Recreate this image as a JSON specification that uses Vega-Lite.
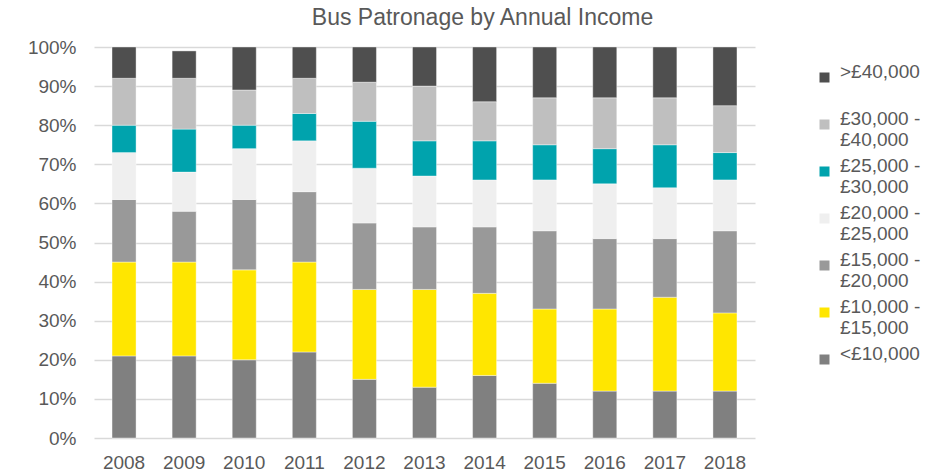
{
  "$schema": "https://vega.github.io/schema/vega-lite/v6.json",
  "autosize": "none",
  "width": 661,
  "height": 391,
  "padding": {"left": 94, "top": 47, "right": 184, "bottom": 35},
  "background": "#ffffff",
  "title": {
    "text": "Bus Patronage by Annual Income",
    "font": "Liberation Sans",
    "fontSize": 23,
    "fontWeight": "normal",
    "color": "#595959",
    "anchor": "middle",
    "dx": 58,
    "offset": 8
  },
  "data": {
    "values": [
      {"year": "2008", "band": "<£10,000", "k": 1, "share": 0.21},
      {"year": "2008", "band": "£10,000 - £15,000", "k": 2, "share": 0.24},
      {"year": "2008", "band": "£15,000 - £20,000", "k": 3, "share": 0.16},
      {"year": "2008", "band": "£20,000 - £25,000", "k": 4, "share": 0.12},
      {"year": "2008", "band": "£25,000 - £30,000", "k": 5, "share": 0.07},
      {"year": "2008", "band": "£30,000 - £40,000", "k": 6, "share": 0.12},
      {"year": "2008", "band": ">£40,000", "k": 7, "share": 0.08},
      {"year": "2009", "band": "<£10,000", "k": 1, "share": 0.21},
      {"year": "2009", "band": "£10,000 - £15,000", "k": 2, "share": 0.24},
      {"year": "2009", "band": "£15,000 - £20,000", "k": 3, "share": 0.13},
      {"year": "2009", "band": "£20,000 - £25,000", "k": 4, "share": 0.10},
      {"year": "2009", "band": "£25,000 - £30,000", "k": 5, "share": 0.11},
      {"year": "2009", "band": "£30,000 - £40,000", "k": 6, "share": 0.13},
      {"year": "2009", "band": ">£40,000", "k": 7, "share": 0.07},
      {"year": "2010", "band": "<£10,000", "k": 1, "share": 0.20},
      {"year": "2010", "band": "£10,000 - £15,000", "k": 2, "share": 0.23},
      {"year": "2010", "band": "£15,000 - £20,000", "k": 3, "share": 0.18},
      {"year": "2010", "band": "£20,000 - £25,000", "k": 4, "share": 0.13},
      {"year": "2010", "band": "£25,000 - £30,000", "k": 5, "share": 0.06},
      {"year": "2010", "band": "£30,000 - £40,000", "k": 6, "share": 0.09},
      {"year": "2010", "band": ">£40,000", "k": 7, "share": 0.11},
      {"year": "2011", "band": "<£10,000", "k": 1, "share": 0.22},
      {"year": "2011", "band": "£10,000 - £15,000", "k": 2, "share": 0.23},
      {"year": "2011", "band": "£15,000 - £20,000", "k": 3, "share": 0.18},
      {"year": "2011", "band": "£20,000 - £25,000", "k": 4, "share": 0.13},
      {"year": "2011", "band": "£25,000 - £30,000", "k": 5, "share": 0.07},
      {"year": "2011", "band": "£30,000 - £40,000", "k": 6, "share": 0.09},
      {"year": "2011", "band": ">£40,000", "k": 7, "share": 0.08},
      {"year": "2012", "band": "<£10,000", "k": 1, "share": 0.15},
      {"year": "2012", "band": "£10,000 - £15,000", "k": 2, "share": 0.23},
      {"year": "2012", "band": "£15,000 - £20,000", "k": 3, "share": 0.17},
      {"year": "2012", "band": "£20,000 - £25,000", "k": 4, "share": 0.14},
      {"year": "2012", "band": "£25,000 - £30,000", "k": 5, "share": 0.12},
      {"year": "2012", "band": "£30,000 - £40,000", "k": 6, "share": 0.10},
      {"year": "2012", "band": ">£40,000", "k": 7, "share": 0.09},
      {"year": "2013", "band": "<£10,000", "k": 1, "share": 0.13},
      {"year": "2013", "band": "£10,000 - £15,000", "k": 2, "share": 0.25},
      {"year": "2013", "band": "£15,000 - £20,000", "k": 3, "share": 0.16},
      {"year": "2013", "band": "£20,000 - £25,000", "k": 4, "share": 0.13},
      {"year": "2013", "band": "£25,000 - £30,000", "k": 5, "share": 0.09},
      {"year": "2013", "band": "£30,000 - £40,000", "k": 6, "share": 0.14},
      {"year": "2013", "band": ">£40,000", "k": 7, "share": 0.10},
      {"year": "2014", "band": "<£10,000", "k": 1, "share": 0.16},
      {"year": "2014", "band": "£10,000 - £15,000", "k": 2, "share": 0.21},
      {"year": "2014", "band": "£15,000 - £20,000", "k": 3, "share": 0.17},
      {"year": "2014", "band": "£20,000 - £25,000", "k": 4, "share": 0.12},
      {"year": "2014", "band": "£25,000 - £30,000", "k": 5, "share": 0.10},
      {"year": "2014", "band": "£30,000 - £40,000", "k": 6, "share": 0.10},
      {"year": "2014", "band": ">£40,000", "k": 7, "share": 0.14},
      {"year": "2015", "band": "<£10,000", "k": 1, "share": 0.14},
      {"year": "2015", "band": "£10,000 - £15,000", "k": 2, "share": 0.19},
      {"year": "2015", "band": "£15,000 - £20,000", "k": 3, "share": 0.20},
      {"year": "2015", "band": "£20,000 - £25,000", "k": 4, "share": 0.13},
      {"year": "2015", "band": "£25,000 - £30,000", "k": 5, "share": 0.09},
      {"year": "2015", "band": "£30,000 - £40,000", "k": 6, "share": 0.12},
      {"year": "2015", "band": ">£40,000", "k": 7, "share": 0.13},
      {"year": "2016", "band": "<£10,000", "k": 1, "share": 0.12},
      {"year": "2016", "band": "£10,000 - £15,000", "k": 2, "share": 0.21},
      {"year": "2016", "band": "£15,000 - £20,000", "k": 3, "share": 0.18},
      {"year": "2016", "band": "£20,000 - £25,000", "k": 4, "share": 0.14},
      {"year": "2016", "band": "£25,000 - £30,000", "k": 5, "share": 0.09},
      {"year": "2016", "band": "£30,000 - £40,000", "k": 6, "share": 0.13},
      {"year": "2016", "band": ">£40,000", "k": 7, "share": 0.13},
      {"year": "2017", "band": "<£10,000", "k": 1, "share": 0.12},
      {"year": "2017", "band": "£10,000 - £15,000", "k": 2, "share": 0.24},
      {"year": "2017", "band": "£15,000 - £20,000", "k": 3, "share": 0.15},
      {"year": "2017", "band": "£20,000 - £25,000", "k": 4, "share": 0.13},
      {"year": "2017", "band": "£25,000 - £30,000", "k": 5, "share": 0.11},
      {"year": "2017", "band": "£30,000 - £40,000", "k": 6, "share": 0.12},
      {"year": "2017", "band": ">£40,000", "k": 7, "share": 0.13},
      {"year": "2018", "band": "<£10,000", "k": 1, "share": 0.12},
      {"year": "2018", "band": "£10,000 - £15,000", "k": 2, "share": 0.20},
      {"year": "2018", "band": "£15,000 - £20,000", "k": 3, "share": 0.21},
      {"year": "2018", "band": "£20,000 - £25,000", "k": 4, "share": 0.13},
      {"year": "2018", "band": "£25,000 - £30,000", "k": 5, "share": 0.07},
      {"year": "2018", "band": "£30,000 - £40,000", "k": 6, "share": 0.12},
      {"year": "2018", "band": ">£40,000", "k": 7, "share": 0.15}
    ]
  },
  "mark": {"type": "bar", "stroke": "#ffffff", "strokeWidth": 0.4},
  "encoding": {
    "x": {
      "field": "year",
      "type": "ordinal",
      "scale": {"paddingInner": 0.6, "paddingOuter": 0.3},
      "axis": {
        "title": null,
        "labelAngle": 0,
        "labelFont": "Liberation Sans",
        "labelFontSize": 19,
        "labelColor": "#595959",
        "labelPadding": 15,
        "ticks": false,
        "domain": false
      }
    },
    "y": {
      "field": "share",
      "type": "quantitative",
      "stack": "zero",
      "scale": {"domain": [0, 1], "nice": false},
      "axis": {
        "title": null,
        "format": ".0%",
        "values": [0, 0.1, 0.2, 0.3, 0.4, 0.5, 0.6, 0.7, 0.8, 0.9, 1],
        "labelFont": "Liberation Sans",
        "labelFontSize": 19,
        "labelColor": "#595959",
        "labelPadding": 18,
        "ticks": false,
        "domain": false,
        "grid": true,
        "gridColor": "#d9d9d9",
        "gridWidth": 1.3
      }
    },
    "order": {"field": "k", "type": "quantitative", "sort": "ascending"},
    "color": {
      "field": "band",
      "type": "nominal",
      "scale": {
        "domain": [">£40,000", "£30,000 - £40,000", "£25,000 - £30,000", "£20,000 - £25,000", "£15,000 - £20,000", "£10,000 - £15,000", "<£10,000"],
        "range": ["#4f4f4f", "#bfbfbf", "#00a3ad", "#efefef", "#999999", "#ffe600", "#808080"]
      },
      "legend": {
        "title": null,
        "orient": "none",
        "legendX": 721,
        "legendY": 21,
        "symbolType": "square",
        "symbolSize": 100,
        "symbolStrokeWidth": 0,
        "labelFont": "Liberation Sans",
        "labelFontSize": 19,
        "labelLineHeight": 20,
        "labelColor": "#595959",
        "labelLimit": 200,
        "labelOffset": 6,
        "labelBaseline": "alphabetic",
        "labelExpr": "indexof(datum.label, ' - ') > 0 ? [replace(datum.label, / - .*/, ' -'), replace(datum.label, /.* - /, '')] : [datum.label, ' ']",
        "rowPadding": 6,
        "encode": {"labels": {"update": {"dy": {"value": 7}}}}
      }
    }
  },
  "config": {"view": {"stroke": null}}
}
